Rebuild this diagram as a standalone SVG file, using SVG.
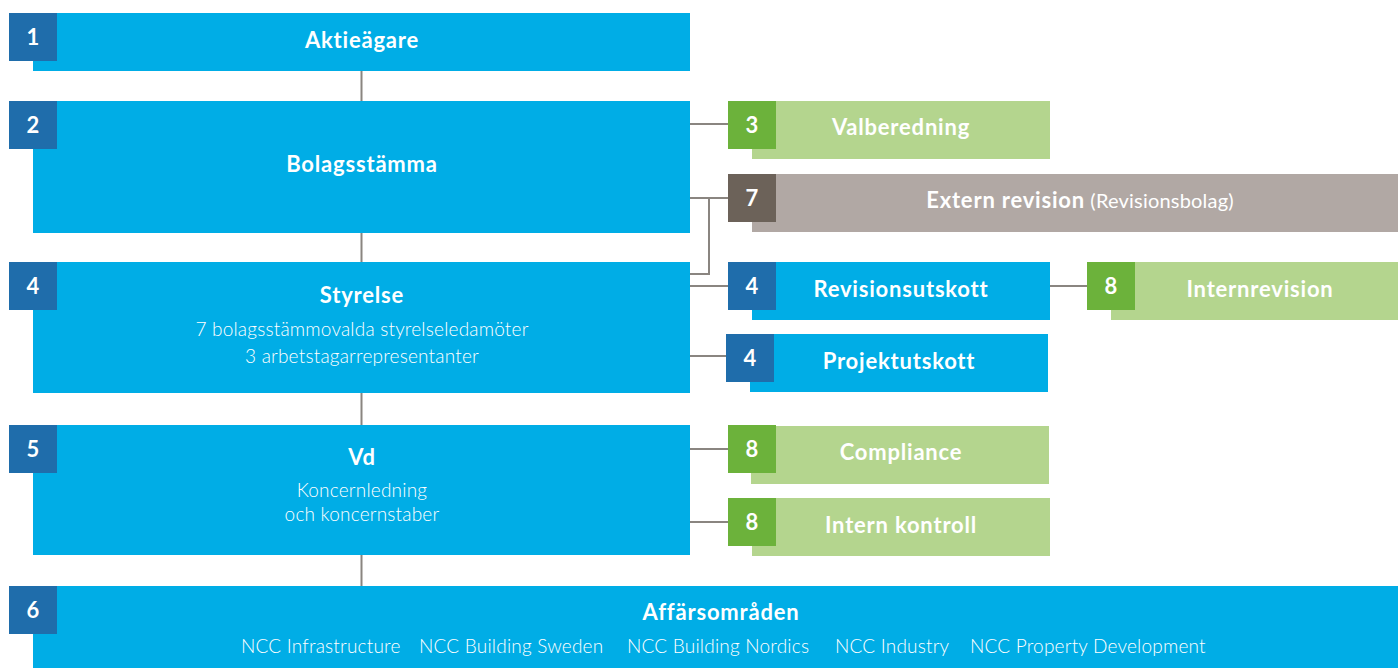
<svg xmlns="http://www.w3.org/2000/svg" width="1398" height="668" viewBox="0 0 1398 668">
<style>
.blue{fill:#00ADE6}
.bb{fill:#1F6DAB}
.gb{fill:#6CB23B}
.lg{fill:#B4D58E}
.grb{fill:#6C6259}
.gr{fill:#B1A8A4}
.t{font-family:Lato,"Liberation Sans",sans-serif;fill:#fff;text-anchor:middle}
.l{text-anchor:start}
.h{font-weight:700;font-size:22px;letter-spacing:0.8px}
.n{font-weight:700;font-size:22px}
.s{font-weight:300;font-size:19px;letter-spacing:0.2px}
.p{font-weight:400;font-size:20px;letter-spacing:0.2px}
.c{stroke:#8A8580;stroke-width:2;fill:none}
</style>
<rect width="1398" height="668" fill="#fff"/>
<g id="connectors">
<path class="c" d="M361.5 71V101M361.5 233V262M361.5 393V425M361.5 555V586"/>
<path class="c" d="M690 124H728M690 198H728M709 198V274H690M690 286H728M1050 286H1087M690 356H726M690 449H728M690 522H728"/>
</g>
<g id="n1">
<rect class="blue" x="33" y="13" width="657" height="58"/>
<rect class="bb" x="9" y="13" width="48" height="48"/>
<text class="t n" x="33" y="45">1</text>
<text class="t h" x="362" y="48">Aktieägare</text>
</g>
<g id="n2">
<rect class="blue" x="33" y="101" width="657" height="132"/>
<rect class="bb" x="9" y="101" width="48" height="48"/>
<text class="t n" x="33" y="133">2</text>
<text class="t h" x="362" y="172">Bolagsstämma</text>
</g>
<g id="n3">
<rect class="lg" x="752" y="101" width="298" height="58"/>
<rect class="gb" x="728" y="101" width="48" height="48"/>
<text class="t n" x="752" y="133">3</text>
<text class="t h" x="901" y="135">Valberedning</text>
</g>
<g id="n7">
<rect class="gr" x="752" y="174" width="646" height="58"/>
<rect class="grb" x="728" y="174" width="48" height="48"/>
<text class="t n" x="752" y="206">7</text>
<text class="t" x="1080" y="208"><tspan class="h">Extern revision</tspan><tspan class="p"> (Revisionsbolag)</tspan></text>
</g>
<g id="n4">
<rect class="blue" x="33" y="262" width="657" height="131"/>
<rect class="bb" x="9" y="262" width="48" height="48"/>
<text class="t n" x="33" y="294">4</text>
<text class="t h" x="362" y="303">Styrelse</text>
<text class="t s" x="362" y="336">7 bolagsstämmovalda styrelseledamöter</text>
<text class="t s" x="362" y="363">3 arbetstagarrepresentanter</text>
</g>
<g id="n4a">
<rect class="blue" x="752" y="262" width="298" height="58"/>
<rect class="bb" x="728" y="262" width="48" height="48"/>
<text class="t n" x="752" y="294">4</text>
<text class="t h" x="901" y="297">Revisionsutskott</text>
</g>
<g id="n8a">
<rect class="lg" x="1111" y="262" width="287" height="58"/>
<rect class="gb" x="1087" y="262" width="48" height="48"/>
<text class="t n" x="1111" y="294">8</text>
<text class="t h" x="1260" y="297">Internrevision</text>
</g>
<g id="n4b">
<rect class="blue" x="750" y="334" width="298" height="58"/>
<rect class="bb" x="726" y="334" width="48" height="48"/>
<text class="t n" x="750" y="366">4</text>
<text class="t h" x="899" y="369">Projektutskott</text>
</g>
<g id="n5">
<rect class="blue" x="33" y="425" width="657" height="130"/>
<rect class="bb" x="9" y="425" width="48" height="48"/>
<text class="t n" x="33" y="457">5</text>
<text class="t h" x="362" y="465">Vd</text>
<text class="t s" x="362" y="497">Koncernledning</text>
<text class="t s" x="362" y="521">och koncernstaber</text>
</g>
<g id="n8b">
<rect class="lg" x="751" y="426" width="298" height="58"/>
<rect class="gb" x="728" y="425" width="48" height="48"/>
<text class="t n" x="752" y="457">8</text>
<text class="t h" x="901" y="460">Compliance</text>
</g>
<g id="n8c">
<rect class="lg" x="752" y="498" width="298" height="58"/>
<rect class="gb" x="728" y="498" width="48" height="48"/>
<text class="t n" x="752" y="530">8</text>
<text class="t h" x="901" y="533">Intern kontroll</text>
</g>
<g id="n6">
<rect class="blue" x="33" y="586" width="1365" height="82"/>
<rect class="bb" x="9" y="586" width="48" height="48"/>
<text class="t n" x="33" y="618">6</text>
<text class="t h" x="721" y="620">Affärsområden</text>
<text class="t s l" x="241" y="653">NCC Infrastructure</text>
<text class="t s l" x="419" y="653">NCC Building Sweden</text>
<text class="t s l" x="627" y="653">NCC Building Nordics</text>
<text class="t s l" x="835" y="653">NCC Industry</text>
<text class="t s l" x="970" y="653">NCC Property Development</text>
</g>
</svg>
